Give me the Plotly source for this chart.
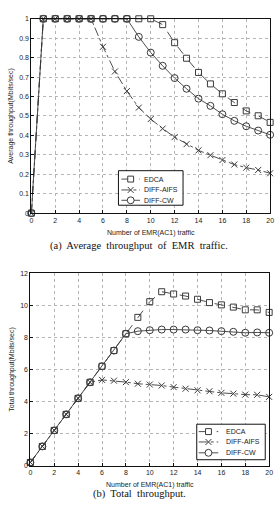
import plotly.graph_objects as go

x = list(range(0, 21))

# (a) Average throughput of EMR traffic
avg_edca = [0, 1, 1, 1, 1, 1, 1, 1, 1, 1, 1.0, 0.97, 0.877, 0.797, 0.724, 0.665, 0.614, 0.569, 0.526, 0.501, 0.467]
avg_aifs = [0, 1, 1, 1, 1, 1, 0.856, 0.729, 0.628, 0.543, 0.484, 0.435, 0.391, 0.355, 0.323, 0.298, 0.273, 0.25, 0.234, 0.222, 0.205]
avg_cw = [0, 1, 1, 1, 1, 1, 1, 1, 1, 0.907, 0.826, 0.758, 0.695, 0.64, 0.589, 0.552, 0.509, 0.475, 0.447, 0.425, 0.403]

# (b) Total throughput
tot_edca = [0.2, 1.2, 2.2, 3.2, 4.2, 5.2, 6.2, 7.18, 8.23, 9.25, 10.23, 10.85, 10.71, 10.58, 10.38, 10.17, 10.03, 9.89, 9.72, 9.72, 9.56]
tot_aifs = [0.2, 1.2, 2.2, 3.2, 4.2, 5.2, 5.35, 5.3, 5.21, 5.11, 5.06, 5.0, 4.9, 4.8, 4.7, 4.64, 4.54, 4.49, 4.43, 4.42, 4.29]
tot_cw = [0.2, 1.2, 2.2, 3.2, 4.2, 5.2, 6.2, 7.18, 8.23, 8.39, 8.45, 8.49, 8.49, 8.49, 8.45, 8.43, 8.39, 8.35, 8.29, 8.31, 8.29]

names = ["EDCA", "DIFF-AIFS", "DIFF-CW"]
dashes = ["dash", "dashdot", "solid"]
symbols = ["square-open", "x-thin-open", "circle-open"]
sizes = [6, 6, 7]
LC = "#3a3a3a"
W, H = 280, 515

fig = go.Figure()
for i, ys in enumerate([avg_edca, avg_aifs, avg_cw]):
    fig.add_trace(go.Scatter(
        x=x, y=ys, name=names[i], mode="lines+markers", showlegend=False, cliponaxis=False,
        line=dict(color=LC, width=0.9, dash=dashes[i]),
        marker=dict(symbol=symbols[i], size=sizes[i], color=LC, line=dict(color=LC, width=1)),
        xaxis="x", yaxis="y"))
for i, ys in enumerate([tot_edca, tot_aifs, tot_cw]):
    fig.add_trace(go.Scatter(
        x=x, y=ys, name=names[i], mode="lines+markers", showlegend=False, cliponaxis=False,
        line=dict(color=LC, width=0.9, dash=dashes[i]),
        marker=dict(symbol=symbols[i], size=sizes[i], color=LC, line=dict(color=LC, width=1)),
        xaxis="x2", yaxis="y2"))

tickfont = dict(family="Liberation Sans, Arial", size=7, color="#222")
axcommon = dict(showline=True, linecolor="#111", linewidth=1, mirror=True,
                showgrid=True, gridcolor="#b5b5b5", griddash="dot", gridwidth=1,
                ticks="inside", ticklen=3, tickcolor="#111", tickfont=tickfont,
                zeroline=False)

shapes = []
annotations = []


def px(v):
    return v / W


def py(v):
    return 1 - v / H


def legend_box(x0, y0, x1, y1, rows, lx0, lx1, tx):
    shapes.append(dict(type="rect", xref="paper", yref="paper",
                       x0=px(x0), x1=px(x1), y0=py(y0), y1=py(y1),
                       line=dict(color="#111", width=1), fillcolor="white", layer="above"))
    mx = (lx0 + lx1) / 2
    for i, ry in enumerate(rows):
        shapes.append(dict(type="line", xref="paper", yref="paper",
                           x0=px(lx0), x1=px(lx1), y0=py(ry), y1=py(ry),
                           line=dict(color=LC, width=0.9, dash=dashes[i]), layer="above"))
        if i == 0:
            shapes.append(dict(type="rect", xref="paper", yref="paper",
                               x0=px(mx - 3), x1=px(mx + 3), y0=py(ry - 3), y1=py(ry + 3),
                               line=dict(color=LC, width=1), fillcolor="white", layer="above"))
        elif i == 1:
            for d in (1, -1):
                shapes.append(dict(type="line", xref="paper", yref="paper",
                                   x0=px(mx - 3), x1=px(mx + 3), y0=py(ry - 3 * d), y1=py(ry + 3 * d),
                                   line=dict(color=LC, width=1), layer="above"))
        else:
            shapes.append(dict(type="circle", xref="paper", yref="paper",
                               x0=px(mx - 3.5), x1=px(mx + 3.5), y0=py(ry - 3.5), y1=py(ry + 3.5),
                               line=dict(color=LC, width=1), fillcolor="white", layer="above"))
        annotations.append(dict(text=names[i], x=px(tx), y=py(ry), xref="paper", yref="paper",
                                showarrow=False, xanchor="left", yanchor="middle",
                                font=tickfont))


legend_box(119, 169, 185, 204, [177.5, 188.5, 199], 122, 141, 143)
legend_box(199, 426, 269, 462, [433.5, 444, 455], 201, 221, 227)

annotations += [
    dict(text="(a)  Average  throughput  of  EMR  traffic.", x=0.5, y=py(245),
         xref="paper", yref="paper", showarrow=False, xanchor="center", yanchor="middle",
         font=dict(family="Liberation Serif, Times New Roman", size=10.5, color="#111")),
    dict(text="(b)  Total  throughput.", x=0.5, y=py(497),
         xref="paper", yref="paper", showarrow=False, xanchor="center", yanchor="middle",
         font=dict(family="Liberation Serif, Times New Roman", size=10.5, color="#111")),
]

fig.update_layout(
    width=W, height=H,
    margin=dict(l=0, r=0, t=0, b=0),
    paper_bgcolor="white", plot_bgcolor="white",
    showlegend=False,
    xaxis=dict(domain=[30/W, 274/W], range=[0, 20], dtick=2, anchor="y",
               title=dict(text="Number of EMR(AC1) traffic", font=tickfont, standoff=7), **axcommon),
    yaxis=dict(domain=[py(212), py(15)], range=[0, 1], dtick=0.1, anchor="x",
               title=dict(text="Average throughput(Mbits/sec)", font=tickfont, standoff=4), **axcommon),
    xaxis2=dict(domain=[29/W, 273/W], range=[0, 20], dtick=2, anchor="y2",
                title=dict(text="Number of EMR(AC1) traffic", font=tickfont, standoff=7), **axcommon),
    yaxis2=dict(domain=[py(468), py(273)], range=[0, 12], dtick=2, anchor="x2",
                title=dict(text="Total throughput(Mbits/sec)", font=tickfont, standoff=4), **axcommon),
    shapes=shapes,
    annotations=annotations,
)

fig.write_html("out.html")
